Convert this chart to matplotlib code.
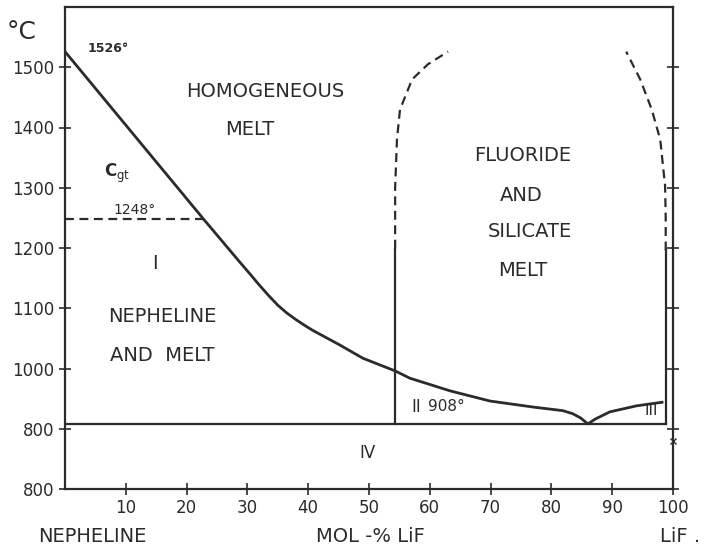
import matplotlib
matplotlib.use('Agg')
import matplotlib.pyplot as plt

INK = '#2b2b2b'

# liquidus (mol-% LiF, deg C)
liq_x = [0, 22.7, 28.8, 30.5, 32.0, 33.5, 35.0, 36.5, 38.0, 39.5, 40.8, 43.0,
         45.2, 49.0, 54.3, 56.7, 63.3, 69.9, 77.0, 81.9, 83.5, 84.8, 86.0,
         87.2, 89.6, 94.0, 98.2]
liq_t = [1526, 1249, 1176, 1156, 1138, 1121, 1105, 1092, 1081, 1071, 1063, 1051,
         1039, 1017, 996, 984, 963, 946, 936, 930, 925, 918, 908,
         916, 928, 938, 944]

# immiscibility gap (dashed)
gap_left_x = [54.3, 54.3, 54.6, 55.1, 57.1, 59.7, 63.0]
gap_left_t = [1199, 1300, 1380, 1430, 1480, 1505, 1526]
gap_right_x = [98.8, 98.8, 98.7, 97.9, 96.5, 94.6, 92.3]
gap_right_t = [1196, 1250, 1303, 1380, 1430, 1480, 1526]

eutectic_t = 908
carn_t = 1248
carn_x = 22.7
mono_left_x = 54.3
mono_right_x = 98.8
mono_top_left = 1199
mono_top_right = 1196

xticks = [10, 20, 30, 40, 50, 60, 70, 80, 90, 100]
yticks = [800, 900, 1000, 1100, 1200, 1300, 1400, 1500]
ylabels = ['800', '800', '1000', '1100', '1200', '1300', '1400', '1500']

fig = plt.figure(figsize=(7.11, 5.5), dpi=100)
ax = fig.add_axes((65 / 711, 1 - 489 / 550, 608 / 711, 482 / 550))
ax.set_xlim(0, 100)
ax.set_ylim(800, 1600)

lw = 1.6
dash = (0, (4, 2.5))
ax.plot(liq_x, liq_t, color=INK, lw=2.0)
ax.plot(gap_left_x, gap_left_t, color=INK, lw=lw, linestyle=dash)
ax.plot(gap_right_x, gap_right_t, color=INK, lw=lw, linestyle=dash)
ax.plot([0, carn_x], [carn_t, carn_t], color=INK, lw=lw, linestyle=dash)
ax.plot([0, mono_right_x], [eutectic_t, eutectic_t], color=INK, lw=lw)
ax.plot([mono_left_x, mono_left_x], [eutectic_t, mono_top_left], color=INK, lw=lw)
ax.plot([mono_right_x, mono_right_x], [eutectic_t, mono_top_right], color=INK, lw=lw)

for s in ax.spines.values():
    s.set_color(INK)
    s.set_linewidth(1.6)

ax.set_xticks(xticks)
ax.set_yticks(yticks)
ax.set_yticklabels(ylabels)
ax.tick_params(direction='inout', length=9, width=1.2, color=INK,
               labelcolor=INK, labelsize=12, right=True)
ax.tick_params(axis='x', pad=3)

txt = dict(color=INK, fontsize=14, ha='center', va='center')
ax.text(7.1, 1531, '1526°', color=INK, fontsize=9, ha='center', va='center', weight='bold')
ax.text(32.9, 1460, 'HOMOGENEOUS', **txt)
ax.text(30.4, 1397, 'MELT', **txt)
ax.text(8.5, 1323, r'C$_{\rm gt}$', color=INK, fontsize=12, ha='center', va='center', weight='bold')
ax.text(11.5, 1263, '1248°', color=INK, fontsize=10, ha='center', va='center')
ax.text(14.8, 1174, 'I', **txt)
ax.text(16, 1087, 'NEPHELINE', **txt)
ax.text(16, 1022, 'AND  MELT', **txt)
ax.text(75.2, 1353, 'FLUORIDE', **txt)
ax.text(75.0, 1287, 'AND', **txt)
ax.text(76.5, 1227, 'SILICATE', **txt)
ax.text(75.3, 1163, 'MELT', **txt)
ax.text(57.7, 936, 'II', color=INK, fontsize=12, ha='center', va='center')
ax.text(62.8, 937, '908°', color=INK, fontsize=11, ha='center', va='center')
ax.text(96.4, 930, 'III', color=INK, fontsize=11, ha='center', va='center')
ax.text(49.8, 860, 'IV', color=INK, fontsize=12, ha='center', va='center')
ax.plot([100], [880], marker='x', color=INK, ms=5, clip_on=False)

fig.text(22 / 711, 1 - 32 / 550, '°C', color=INK, fontsize=18, ha='center', va='center')
fig.text(92 / 711, 1 - 537 / 550, 'NEPHELINE', color=INK, fontsize=14, ha='center', va='center')
fig.text(370 / 711, 1 - 537 / 550, 'MOL -% LiF', color=INK, fontsize=14, ha='center', va='center')
fig.text(680 / 711, 1 - 537 / 550, 'LiF .', color=INK, fontsize=14, ha='center', va='center')

fig.savefig('out.png', dpi=100)
